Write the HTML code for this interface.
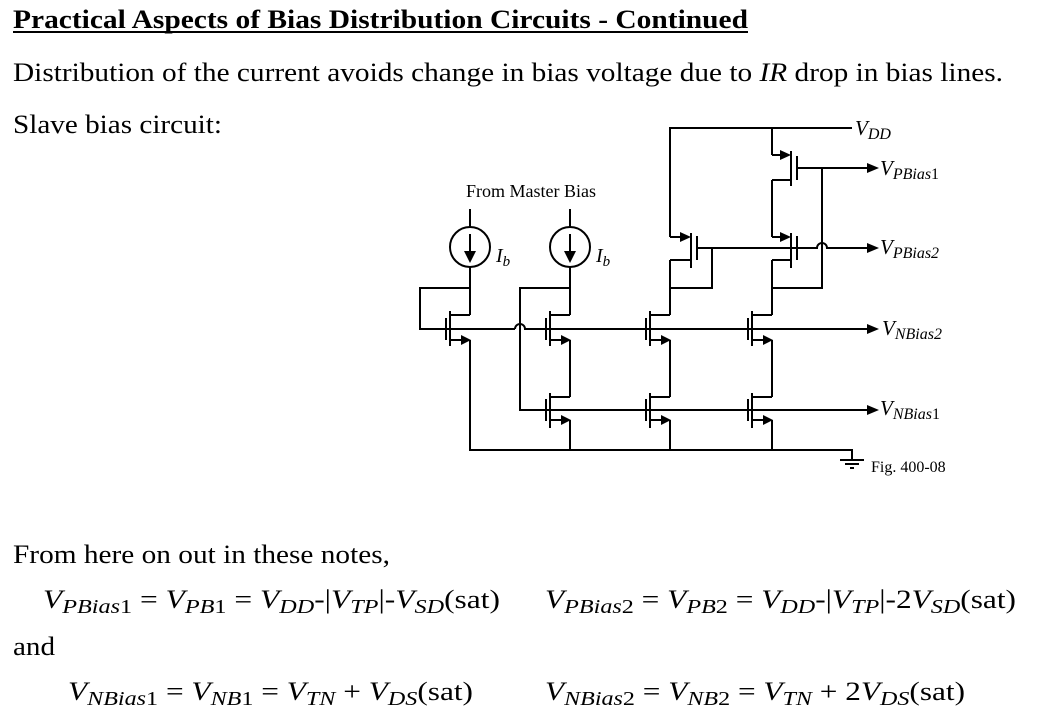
<!DOCTYPE html>
<html><head><meta charset="utf-8"><style>
html,body{margin:0;padding:0;background:#fff;}
svg{display:block;font-family:"Liberation Serif",serif;}
.w{stroke:#000;stroke-width:2;fill:none;}
</style></head><body>
<svg width="1046" height="717" viewBox="0 0 1046 717">
<g>
<text x="13" y="28" font-size="26" font-weight="bold" textLength="735" lengthAdjust="spacingAndGlyphs">Practical Aspects of Bias Distribution Circuits - Continued</text>
<line x1="13" y1="32" x2="748" y2="32" stroke="#000" stroke-width="2"/>
<text x="13" y="81" font-size="26" textLength="990" lengthAdjust="spacingAndGlyphs">Distribution of the current avoids change in bias voltage due to <tspan font-style="italic">IR</tspan> drop in bias lines.</text>
<text x="13" y="133" font-size="26" textLength="209" lengthAdjust="spacingAndGlyphs">Slave bias circuit:</text>
</g>

<g>
<g>
<line class="w" x1="470" y1="209" x2="470" y2="227"/>
<circle class="w" cx="470" cy="247" r="20"/>
<line class="w" x1="470" y1="234" x2="470" y2="254"/>
<polygon points="470,263 464,251 476,251" fill="#000"/>
</g>
<g>
<line class="w" x1="570" y1="209" x2="570" y2="227"/>
<circle class="w" cx="570" cy="247" r="20"/>
<line class="w" x1="570" y1="234" x2="570" y2="254"/>
<polygon points="570,263 564,251 576,251" fill="#000"/>
</g>
<text x="531" y="197" font-size="18" text-anchor="middle">From Master Bias</text>
<text x="496" y="262" font-size="20" font-style="italic">I<tspan font-size="15" dy="4">b</tspan></text>
<text x="596" y="262" font-size="20" font-style="italic">I<tspan font-size="15" dy="4">b</tspan></text>

<g>
<polyline class="w" points="470,267 470,315"/>
<polyline class="w" points="470,288 420,288 420,329 515,329"/>
<path class="w" d="M515,329 A5,5 0 0 1 525,329 L869,329"/>
<polyline class="w" points="470,340 470,450 852,450 852,460"/>
<polyline class="w" points="570,267 570,315"/>
<polyline class="w" points="570,288 520,288 520,410 869,410"/>
<polyline class="w" points="570,340 570,397"/>
<polyline class="w" points="570,420 570,450"/>
<polyline class="w" points="670,315 670,260"/>
<polyline class="w" points="670,288 712,288 712,248 697,248"/>
<polyline class="w" points="670,340 670,397"/>
<polyline class="w" points="670,420 670,450"/>
<polyline class="w" points="670,237 670,128 852,128"/>
<polyline class="w" points="772,315 772,260"/>
<polyline class="w" points="772,288 822,288 822,168"/>
<polyline class="w" points="772,340 772,397"/>
<polyline class="w" points="772,420 772,450"/>
<polyline class="w" points="772,237 772,180"/>
<polyline class="w" points="772,155 772,128"/>
<polyline class="w" points="797,168 869,168"/>
<path class="w" d="M712,248 L817,248 A5,5 0 0 1 827,248 L869,248"/>
</g>
<g>
<polygon points="879,168 867,163 867,173" fill="#000"/>
<polygon points="879,248 867,243 867,253" fill="#000"/>
<polygon points="879,329 867,324 867,334" fill="#000"/>
<polygon points="879,410 867,405 867,415" fill="#000"/>
</g>
<g>
<line class="w" x1="840" y1="460" x2="864" y2="460"/>
<line class="w" x1="845" y1="464" x2="859" y2="464"/>
<line class="w" x1="850" y1="468" x2="854" y2="468"/>
</g>

<g stroke="#000" stroke-width="2">
<g><line x1="450" y1="311" x2="450" y2="346"/><line x1="446" y1="318" x2="446" y2="340"/><line x1="450" y1="315" x2="470" y2="315"/><line x1="450" y1="340" x2="462" y2="340"/><polygon points="471,340 461,335 461,345" fill="#000" stroke="none"/></g>
<g><line x1="550" y1="311" x2="550" y2="346"/><line x1="546" y1="318" x2="546" y2="340"/><line x1="550" y1="315" x2="570" y2="315"/><line x1="550" y1="340" x2="562" y2="340"/><polygon points="571,340 561,335 561,345" fill="#000" stroke="none"/></g>
<g><line x1="650" y1="311" x2="650" y2="346"/><line x1="646" y1="318" x2="646" y2="340"/><line x1="650" y1="315" x2="670" y2="315"/><line x1="650" y1="340" x2="662" y2="340"/><polygon points="671,340 661,335 661,345" fill="#000" stroke="none"/></g>
<g><line x1="752" y1="311" x2="752" y2="346"/><line x1="748" y1="318" x2="748" y2="340"/><line x1="752" y1="315" x2="772" y2="315"/><line x1="752" y1="340" x2="764" y2="340"/><polygon points="773,340 763,335 763,345" fill="#000" stroke="none"/></g>
<g><line x1="550" y1="393" x2="550" y2="428"/><line x1="546" y1="399" x2="546" y2="421"/><line x1="550" y1="397" x2="570" y2="397"/><line x1="550" y1="420" x2="562" y2="420"/><polygon points="571,420 561,415 561,425" fill="#000" stroke="none"/></g>
<g><line x1="650" y1="393" x2="650" y2="428"/><line x1="646" y1="399" x2="646" y2="421"/><line x1="650" y1="397" x2="670" y2="397"/><line x1="650" y1="420" x2="662" y2="420"/><polygon points="671,420 661,415 661,425" fill="#000" stroke="none"/></g>
<g><line x1="752" y1="393" x2="752" y2="428"/><line x1="748" y1="399" x2="748" y2="421"/><line x1="752" y1="397" x2="772" y2="397"/><line x1="752" y1="420" x2="764" y2="420"/><polygon points="773,420 763,415 763,425" fill="#000" stroke="none"/></g>
</g>

<g stroke="#000" stroke-width="2">
<g><line x1="691" y1="233" x2="691" y2="268"/><line x1="697" y1="236" x2="697" y2="260"/><line x1="670" y1="237" x2="682" y2="237"/><polygon points="691,237 680,232 680,242" fill="#000" stroke="none"/><line x1="691" y1="260" x2="670" y2="260"/></g>
<g><line x1="791" y1="151" x2="791" y2="186"/><line x1="797" y1="156" x2="797" y2="180"/><line x1="772" y1="155" x2="782" y2="155"/><polygon points="791,155 780,150 780,160" fill="#000" stroke="none"/><line x1="791" y1="180" x2="772" y2="180"/></g>
<g><line x1="791" y1="233" x2="791" y2="268"/><line x1="797" y1="236" x2="797" y2="260"/><line x1="772" y1="237" x2="782" y2="237"/><polygon points="791,237 780,232 780,242" fill="#000" stroke="none"/><line x1="791" y1="260" x2="772" y2="260"/></g>
</g>

<g font-style="italic">
<text x="855" y="135" font-size="21">V<tspan font-size="16" dy="4">DD</tspan></text>
<text x="880" y="175" font-size="21">V<tspan font-size="16" dy="4">PBias</tspan><tspan font-style="normal" font-size="16">1</tspan></text>
<text x="880" y="254" font-size="21">V<tspan font-size="16" dy="4">PBias2</tspan></text>
<text x="882" y="335" font-size="21">V<tspan font-size="16" dy="4">NBias2</tspan></text>
<text x="880" y="415" font-size="21">V<tspan font-size="16" dy="4">NBias</tspan><tspan font-style="normal" font-size="16">1</tspan></text>
</g>
<text x="871" y="472" font-size="16">Fig. 400-08</text>
</g>

<g font-size="26">
<text x="13" y="563" textLength="377" lengthAdjust="spacingAndGlyphs">From here on out in these notes,</text>
<text x="43" y="608" textLength="457" lengthAdjust="spacingAndGlyphs"><tspan font-style="italic">V</tspan><tspan font-style="italic" font-size="20" dy="5">PBias</tspan><tspan font-size="20">1</tspan><tspan dy="-5"> = </tspan><tspan font-style="italic">V</tspan><tspan font-style="italic" font-size="20" dy="5">PB</tspan><tspan font-size="20">1</tspan><tspan dy="-5"> = </tspan><tspan font-style="italic">V</tspan><tspan font-style="italic" font-size="20" dy="5">DD</tspan><tspan dy="-5">-|</tspan><tspan font-style="italic">V</tspan><tspan font-style="italic" font-size="20" dy="5">TP</tspan><tspan dy="-5">|-</tspan><tspan font-style="italic">V</tspan><tspan font-style="italic" font-size="20" dy="5">SD</tspan><tspan dy="-5">(sat)</tspan></text>
<text x="545" y="608" textLength="471" lengthAdjust="spacingAndGlyphs"><tspan font-style="italic">V</tspan><tspan font-style="italic" font-size="20" dy="5">PBias</tspan><tspan font-size="20">2</tspan><tspan dy="-5"> = </tspan><tspan font-style="italic">V</tspan><tspan font-style="italic" font-size="20" dy="5">PB</tspan><tspan font-size="20">2</tspan><tspan dy="-5"> = </tspan><tspan font-style="italic">V</tspan><tspan font-style="italic" font-size="20" dy="5">DD</tspan><tspan dy="-5">-|</tspan><tspan font-style="italic">V</tspan><tspan font-style="italic" font-size="20" dy="5">TP</tspan><tspan dy="-5">|-2</tspan><tspan font-style="italic">V</tspan><tspan font-style="italic" font-size="20" dy="5">SD</tspan><tspan dy="-5">(sat)</tspan></text>
<text x="13" y="655" textLength="42" lengthAdjust="spacingAndGlyphs">and</text>
<text x="68" y="700" textLength="405" lengthAdjust="spacingAndGlyphs"><tspan font-style="italic">V</tspan><tspan font-style="italic" font-size="20" dy="5">NBias</tspan><tspan font-size="20">1</tspan><tspan dy="-5"> = </tspan><tspan font-style="italic">V</tspan><tspan font-style="italic" font-size="20" dy="5">NB</tspan><tspan font-size="20">1</tspan><tspan dy="-5"> = </tspan><tspan font-style="italic">V</tspan><tspan font-style="italic" font-size="20" dy="5">TN</tspan><tspan dy="-5"> + </tspan><tspan font-style="italic">V</tspan><tspan font-style="italic" font-size="20" dy="5">DS</tspan><tspan dy="-5">(sat)</tspan></text>
<text x="545" y="700" textLength="420" lengthAdjust="spacingAndGlyphs"><tspan font-style="italic">V</tspan><tspan font-style="italic" font-size="20" dy="5">NBias</tspan><tspan font-size="20">2</tspan><tspan dy="-5"> = </tspan><tspan font-style="italic">V</tspan><tspan font-style="italic" font-size="20" dy="5">NB</tspan><tspan font-size="20">2</tspan><tspan dy="-5"> = </tspan><tspan font-style="italic">V</tspan><tspan font-style="italic" font-size="20" dy="5">TN</tspan><tspan dy="-5"> + 2</tspan><tspan font-style="italic">V</tspan><tspan font-style="italic" font-size="20" dy="5">DS</tspan><tspan dy="-5">(sat)</tspan></text>
</g>
</svg>
</body></html>
